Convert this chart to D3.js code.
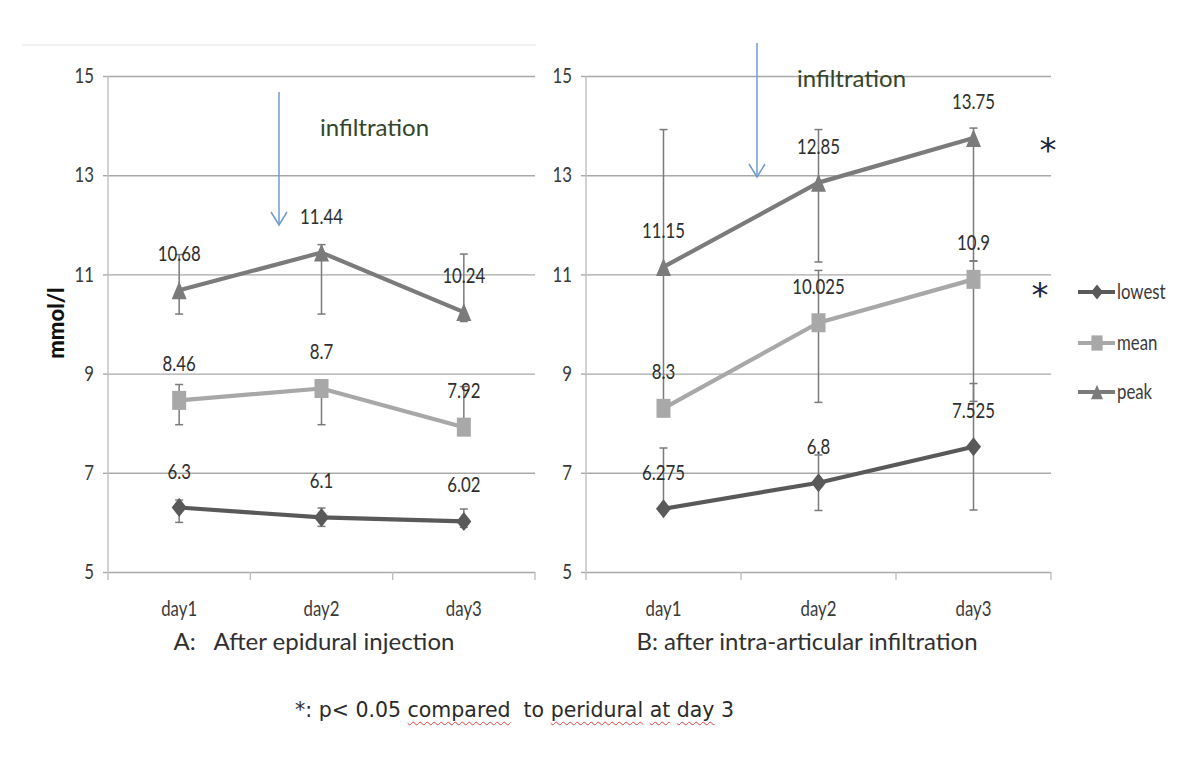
<!DOCTYPE html>
<html><head><meta charset="utf-8">
<script src="https://cdn.jsdelivr.net/npm/d3@7"></script>
<style>
body{margin:0;background:#fff;}
#foot{position:absolute;left:295px;top:698px;font-family:"DejaVu Sans",Verdana,sans-serif;font-size:20.5px;color:#2a2a2a;white-space:pre;}
.wavy{text-decoration:underline wavy #e04040;text-decoration-thickness:1px;text-underline-offset:4px;}
</style></head><body>
<svg id="chart" width="1200" height="769" style="position:absolute;left:0;top:0"></svg>
<div id="foot">*: p&lt; 0.05 <span class="wavy">compared</span>  to <span class="wavy">peridural</span> <span class="wavy">at</span> <span class="wavy">day</span> 3</div>
<script>
// ---------- data ----------
const days = ["day1", "day2", "day3"];
const yTicks = [5, 7, 9, 11, 13, 15];
const seriesNames = ["lowest", "mean", "peak"];

// Panel A: after epidural injection
const aLowest = [6.3, 6.1, 6.02];
const aMean = [8.46, 8.7, 7.92];
const aPeak = [10.68, 11.44, 10.24];
const aLowestErr = [[6.0, 6.45], [5.92, 6.29], [5.9, 6.27]];
const aMeanErr = [[7.97, 8.78], [7.97, 8.85], [7.8, 8.74]];
const aPeakErr = [[10.2, 11.4], [10.2, 11.6], [10.05, 11.41]];

// Panel B: after intra-articular infiltration
const bLowest = [6.275, 6.8, 7.525];
const bMean = [8.3, 10.025, 10.9];
const bPeak = [11.15, 12.85, 13.75];
const bLowestErr = [[6.275, 7.5], [6.24, 7.36], [6.25, 8.8]];
const bMeanErr = [[8.3, 8.3], [8.42, 11.08], [8.44, 11.27]];
const bPeakErr = [[8.37, 13.92], [11.25, 13.92], [11.27, 13.95]];

const panelTitles = ["A:   After epidural injection", "B: after intra-articular infiltration"];
const annotationText = "infiltration";
const yTitle = "mmol/l";

// ---------- drawing ----------
const svg = d3.select("#chart");
const numFont = "Lato,'Liberation Sans',sans-serif";
const wordFont = "Lato,'Open Sans',sans-serif";
const SX = 0.8; // horizontal squeeze to mimic the narrow chart font
const y = d3.scaleLinear().domain([5, 15]).range([572, 76]);

const styles = {
  lowest: {color: "#595959", shape: "diamond", w: 15, h: 19},
  mean:   {color: "#a8a8a8", shape: "square",  w: 14, h: 19},
  peak:   {color: "#7b7b7b", shape: "triangle", w: 15, h: 18}
};

function markerPath(shape, w, h) {
  const p = d3.path();
  if (shape === "diamond") { p.moveTo(0, -h/2); p.lineTo(w/2, 0); p.lineTo(0, h/2); p.lineTo(-w/2, 0); p.closePath(); }
  else if (shape === "square") { p.rect(-w/2, -h/2, w, h); }
  else { p.moveTo(0, -h/2); p.lineTo(w/2, h/2); p.lineTo(-w/2, h/2); p.closePath(); }
  return p.toString();
}

// squeeze axis texts horizontally (keeps their own x offset)
function squeeze(sel) {
  sel.each(function() {
    const t = d3.select(this);
    const xx = +t.attr("x") || 0;
    t.attr("transform", `translate(${xx},0) scale(${SX},1)`).attr("x", 0);
  });
}

// faint frame line at top of left chart
svg.append("line").attr("x1", 22).attr("x2", 536).attr("y1", 45).attr("y2", 45)
  .attr("stroke", "#eeeeee").attr("stroke-width", 1.5);

const panels = [
  {left: 108, right: 535, title: panelTitles[0], titleX: 314,
   values: {lowest: aLowest, mean: aMean, peak: aPeak},
   errs: {lowest: aLowestErr, mean: aMeanErr, peak: aPeakErr},
   arrowX: 279, arrowTop: 92, arrowTip: 225, annX: 320, annY: 136},
  {left: 586, right: 1051, title: panelTitles[1], titleX: 807,
   values: {lowest: bLowest, mean: bMean, peak: bPeak},
   errs: {lowest: bLowestErr, mean: bMeanErr, peak: bPeakErr},
   arrowX: 757, arrowTop: 43, arrowTip: 177, annX: 797, annY: 87}
];

panels.forEach(cfg => {
  const x = d3.scaleBand().domain(days).range([cfg.left, cfg.right]);
  const cx = d => x(d) + x.bandwidth() / 2;
  const w = cfg.right - cfg.left;
  const g = svg.append("g");

  // gridlines
  g.append("g").attr("transform", `translate(${cfg.left},0)`)
    .call(d3.axisLeft(y).tickValues(yTicks).tickSize(-w).tickFormat(""))
    .call(s => s.select(".domain").remove())
    .call(s => s.selectAll("line").attr("stroke", "#a9a9a9").attr("stroke-width", 1.4));
  // y tick marks + labels
  g.append("g").attr("transform", `translate(${cfg.left},0)`)
    .call(d3.axisLeft(y).tickValues(yTicks).tickSize(5).tickPadding(9).tickFormat(d3.format("d")))
    .call(s => s.select(".domain").remove())
    .call(s => s.selectAll("line").attr("stroke", "#a9a9a9").attr("stroke-width", 1.4))
    .call(s => s.selectAll("text").attr("font-family", numFont).attr("font-size", 21).attr("fill", "#3a3a3a").call(squeeze));
  // vertical axis line
  g.append("line").attr("x1", cfg.left).attr("x2", cfg.left).attr("y1", y(5)).attr("y2", y(15))
    .attr("stroke", "#bfbfbf").attr("stroke-width", 1.4);
  // x axis tick marks at category boundaries
  const bounds = days.map(d => x(d)).concat([x.range()[1]]);
  g.selectAll(".xt").data(bounds).join("line")
    .attr("x1", d => d).attr("x2", d => d).attr("y1", y(5)).attr("y2", y(5) + 8)
    .attr("stroke", "#bfbfbf").attr("stroke-width", 1.4);
  // day labels
  g.append("g").attr("transform", `translate(0,${y(5)})`)
    .call(d3.axisBottom(x).tickSize(0).tickPadding(29))
    .call(s => s.select(".domain").remove())
    .call(s => s.selectAll("text").attr("font-family", numFont).attr("font-size", 21).attr("fill", "#3a3a3a").call(squeeze));

  // error bars
  seriesNames.forEach(name => {
    cfg.errs[name].forEach((e, i) => {
      if (e[1] - e[0] <= 0) return;
      const xx = cx(days[i]);
      const eg = g.append("g").attr("stroke", "#7a7a7a").attr("stroke-width", 1.5);
      eg.append("line").attr("x1", xx).attr("x2", xx).attr("y1", y(e[0])).attr("y2", y(e[1]));
      eg.append("line").attr("x1", xx - 4).attr("x2", xx + 4).attr("y1", y(e[0])).attr("y2", y(e[0]));
      eg.append("line").attr("x1", xx - 4).attr("x2", xx + 4).attr("y1", y(e[1])).attr("y2", y(e[1]));
    });
  });

  // lines + markers
  seriesNames.forEach(name => {
    const st = styles[name];
    const vals = cfg.values[name];
    const line = d3.line().x((d, i) => cx(days[i])).y(d => y(d));
    g.append("path").attr("d", line(vals)).attr("fill", "none")
      .attr("stroke", st.color).attr("stroke-width", 4.2).attr("stroke-linejoin", "round");
    g.selectAll(null).data(vals).join("path")
      .attr("transform", (d, i) => `translate(${cx(days[i])},${y(d)})`)
      .attr("d", markerPath(st.shape, st.w, st.h)).attr("fill", st.color);
  });

  // data labels
  seriesNames.forEach(name => {
    g.selectAll(null).data(cfg.values[name]).join("text")
      .attr("transform", (d, i) => `translate(${cx(days[i])},${y(d) - 29}) scale(${SX},1)`)
      .attr("text-anchor", "middle").attr("font-family", numFont).attr("font-size", 21)
      .attr("fill", "#2e2e2e").text(d => String(d));
  });

  // panel title
  svg.append("text").attr("x", cfg.titleX).attr("y", 650).attr("text-anchor", "middle")
    .style("white-space", "pre")
    .attr("font-family", wordFont).attr("font-size", 24).attr("fill", "#303030").text(cfg.title);

  // infiltration arrow + annotation
  const ag = svg.append("g").attr("stroke", "#6f9bd1").attr("stroke-width", 1.5).attr("fill", "none");
  ag.append("line").attr("x1", cfg.arrowX).attr("x2", cfg.arrowX).attr("y1", cfg.arrowTop).attr("y2", cfg.arrowTip);
  ag.append("path").attr("d", `M${cfg.arrowX - 8},${cfg.arrowTip - 13}L${cfg.arrowX},${cfg.arrowTip}L${cfg.arrowX + 8},${cfg.arrowTip - 13}`);
  svg.append("text").attr("x", cfg.annX).attr("y", cfg.annY).attr("font-family", wordFont)
    .attr("font-size", 24).attr("fill", "#34452a").text(annotationText);
});

// y axis title
svg.append("text").attr("transform", "translate(64,323) rotate(-90)").attr("text-anchor", "middle")
  .attr("font-family", wordFont).attr("font-weight", "900").attr("font-size", 22).attr("fill", "#111")
  .text(yTitle);

// significance asterisks
[[1048, 143], [1040, 288]].forEach(p => {
  svg.append("text").attr("x", p[0]).attr("y", p[1] + 19).attr("text-anchor", "middle")
    .attr("font-family", "'DejaVu Sans',sans-serif").attr("font-size", 34).attr("fill", "#1c2540").text("*");
});

// legend
const leg = svg.append("g");
const legY = {lowest: 292, mean: 343, peak: 392};
seriesNames.forEach(name => {
  const st = styles[name];
  const ly = legY[name];
  leg.append("line").attr("x1", 1078).attr("x2", 1115).attr("y1", ly).attr("y2", ly)
    .attr("stroke", st.color).attr("stroke-width", 4.2);
  leg.append("path").attr("transform", `translate(1097,${ly})`)
    .attr("d", markerPath(st.shape, st.w * 0.8, st.h * 0.8)).attr("fill", st.color);
  leg.append("text").attr("transform", `translate(1117,${ly + 7}) scale(${SX},1)`)
    .attr("font-family", numFont).attr("font-size", 21).attr("fill", "#3a3a3a").text(name);
});
</script>
</body></html>
